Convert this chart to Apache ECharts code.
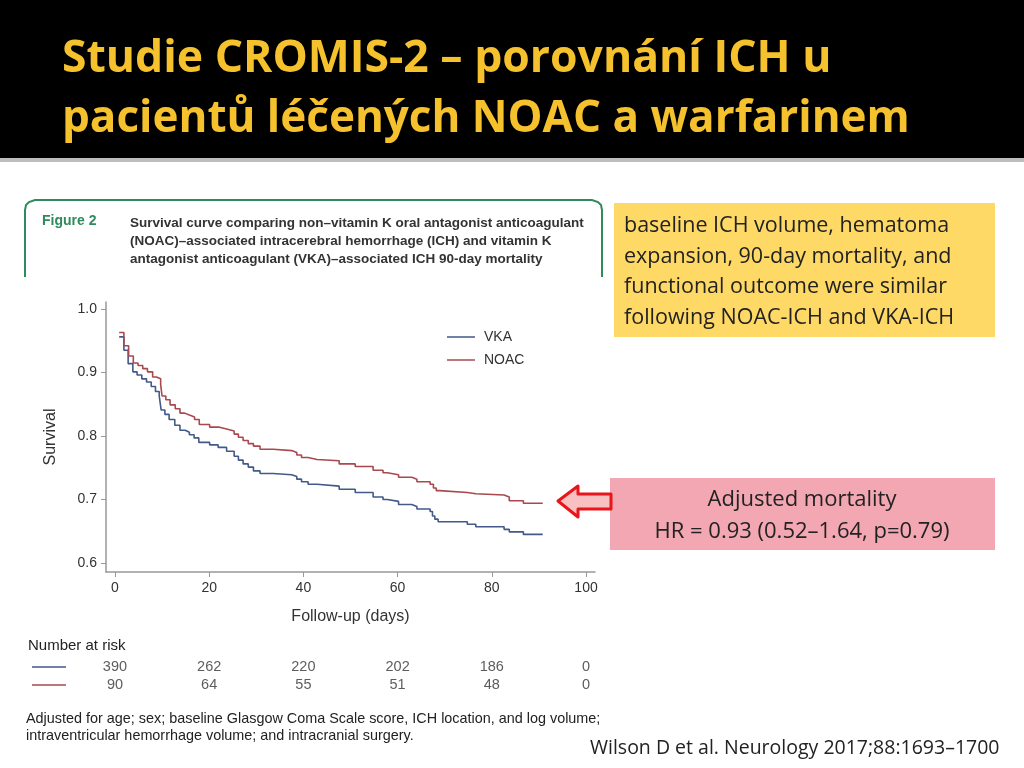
<!DOCTYPE html>
<html>
<head>
<meta charset="utf-8">
<script src="https://cdn.jsdelivr.net/npm/echarts@6/dist/echarts.min.js"></script>
<style>
  html, body { margin: 0; padding: 0; background: #fff; }
  #chart { width: 1024px; height: 768px; }
</style>
</head>
<body>
<div id="chart"></div>
<script>
// Kaplan-Meier steps: [day, survival]
const vkaCurve = [
  [0.9, 0.956], [1.9, 0.935], [2.8, 0.914], [3.8, 0.901], [4.7, 0.896], [5.7, 0.890],
  [6.7, 0.885], [7.7, 0.878], [8.6, 0.870], [9.4, 0.863], [9.8, 0.841], [10.6, 0.834],
  [11.5, 0.826], [12.7, 0.817], [13.8, 0.809], [14.9, 0.806], [15.8, 0.802], [16.8, 0.797],
  [17.8, 0.790], [20.1, 0.786], [21.9, 0.782], [23.7, 0.776], [25.3, 0.768], [26.2, 0.762],
  [27.2, 0.756], [28.3, 0.751], [29.4, 0.745], [30.8, 0.741], [33.6, 0.739], [37.5, 0.736],
  [38.6, 0.732], [39.6, 0.728], [41.0, 0.724], [42.9, 0.721], [47.6, 0.716], [51.0, 0.711],
  [54.8, 0.704], [56.9, 0.700], [57.8, 0.697], [60.2, 0.692], [63.0, 0.689], [64.1, 0.685],
  [66.9, 0.681], [67.4, 0.674], [67.9, 0.669], [68.6, 0.665], [74.8, 0.661], [76.6, 0.657],
  [82.6, 0.653], [83.7, 0.649], [86.7, 0.645], [90.8, 0.645]
];

const noacCurve = [
  [0.9, 0.963], [1.9, 0.942], [2.9, 0.926], [3.9, 0.915], [4.9, 0.911], [5.9, 0.906],
  [6.9, 0.901], [8.0, 0.893], [8.8, 0.890], [9.7, 0.881], [10.0, 0.863], [10.8, 0.857],
  [11.7, 0.849], [12.8, 0.843], [13.8, 0.836], [14.8, 0.833], [15.8, 0.830], [16.9, 0.826],
  [17.9, 0.818], [20.1, 0.814], [22.0, 0.811], [23.7, 0.808], [25.3, 0.803], [26.2, 0.798],
  [27.2, 0.793], [28.3, 0.788], [29.4, 0.784], [30.8, 0.779], [33.6, 0.777], [37.5, 0.774],
  [38.6, 0.770], [39.6, 0.766], [41.0, 0.763], [42.9, 0.761], [47.6, 0.756], [51.0, 0.752],
  [54.8, 0.746], [56.9, 0.742], [57.8, 0.739], [60.2, 0.735], [63.0, 0.732], [64.1, 0.728],
  [66.9, 0.724], [67.6, 0.718], [68.2, 0.714], [68.9, 0.711], [74.8, 0.709], [76.6, 0.707],
  [82.6, 0.704], [83.7, 0.698], [86.7, 0.694], [90.8, 0.694]
];

const xTicks = [0, 20, 40, 60, 80, 100];
const yTicks = [0.6, 0.7, 0.8, 0.9, 1.0];

// number at risk
const riskDays = [0, 20, 40, 60, 80, 100];
const vkaRisk = [390, 262, 220, 202, 186, 0];
const noacRisk = [90, 64, 55, 51, 48, 0];

const BLUE = '#43598a';
const RED = '#a9484f';
const FONT = '"Liberation Sans", Arial, sans-serif';
const SLIDE_FONT = '"Open Sans", Lato, sans-serif';

const riskRows = (name, values) => riskDays.map((d, i) => [d, name, values[i]]);

const chart = echarts.init(document.getElementById('chart'));

chart.setOption({
  animation: false,
  backgroundColor: '#fff',
  textStyle: { fontFamily: FONT },
  grid: [
    { left: 106, right: 429, top: 302, bottom: 196 },
    { left: 106, right: 429, top: 658, height: 36 }
  ],
  legend: {
    data: ['VKA', 'NOAC'],
    orient: 'vertical',
    left: 442,
    top: 325,
    icon: 'rect',
    itemWidth: 28,
    itemHeight: 1.5,
    itemGap: 9,
    textStyle: { fontFamily: FONT, fontSize: 14, color: '#333', padding: [0, 0, 0, 4] }
  },
  xAxis: [
    {
      type: 'value',
      min: -1.9,
      max: 101.9,
      name: 'Follow-up (days)',
      nameLocation: 'middle',
      nameGap: 37,
      nameTextStyle: { fontSize: 16, color: '#333' },
      axisLine: { onZero: false, lineStyle: { color: '#999', width: 1.5 } },
      axisTick: { show: true, customValues: xTicks, length: 5, lineStyle: { color: '#999' } },
      axisLabel: { customValues: xTicks, fontSize: 14, color: '#333', margin: 9 },
      splitLine: { show: false }
    },
    { gridIndex: 1, type: 'value', min: -1.9, max: 101.9, show: false }
  ],
  yAxis: [
    {
      type: 'value',
      min: 0.5858,
      max: 1.011,
      name: 'Survival',
      nameLocation: 'middle',
      nameGap: 47,
      nameRotate: 90,
      nameTextStyle: { fontSize: 16, color: '#333' },
      axisLine: { show: true, onZero: false, lineStyle: { color: '#999', width: 1.5 } },
      axisTick: { show: true, customValues: yTicks, length: 5, lineStyle: { color: '#999' } },
      axisLabel: {
        customValues: yTicks,
        fontSize: 14,
        color: '#333',
        margin: 9,
        formatter: v => v.toFixed(1)
      },
      splitLine: { show: false }
    },
    { gridIndex: 1, type: 'category', data: ['VKA', 'NOAC'], inverse: true, show: false }
  ],
  series: [
    {
      name: 'VKA',
      type: 'line',
      step: 'end',
      showSymbol: false,
      color: BLUE,
      lineStyle: { width: 1.6 },
      data: vkaCurve
    },
    {
      name: 'NOAC',
      type: 'line',
      step: 'end',
      showSymbol: false,
      color: RED,
      lineStyle: { width: 1.6 },
      data: noacCurve
    },
    {
      name: 'risk',
      type: 'scatter',
      xAxisIndex: 1,
      yAxisIndex: 1,
      symbolSize: 0.1,
      itemStyle: { color: 'transparent' },
      label: {
        show: true,
        position: 'inside',
        fontSize: 14.5,
        color: '#333',
        formatter: p => p.value[2]
      },
      data: riskRows('VKA', vkaRisk).concat(riskRows('NOAC', noacRisk))
    }
  ],
  graphic: [
    // slide header
    { type: 'rect', shape: { x: 0, y: 0, width: 1024, height: 158 }, style: { fill: '#000' } },
    { type: 'rect', shape: { x: 0, y: 158, width: 1024, height: 4 }, style: { fill: '#bdbdbd' } },
    {
      type: 'text', x: 62, y: 37,
      style: { text: 'Studie CROMIS-2 – porovnání ICH u', fill: '#f5c12c', font: 'bold 44.5px ' + SLIDE_FONT }
    },
    {
      type: 'text', x: 62, y: 97,
      style: { text: 'pacientů léčených NOAC a warfarinem', fill: '#f5c12c', font: 'bold 44px ' + SLIDE_FONT }
    },
    // figure caption box
    {
      type: 'polyline',
      shape: {
        points: [[25, 277], [25, 210], [26, 205], [29, 202], [35, 200], [592, 200],
                 [598, 202], [601, 205], [602, 210], [602, 277]]
      },
      style: { stroke: '#2f8a5c', lineWidth: 2, fill: null }
    },
    {
      type: 'text', x: 42, y: 214,
      style: { text: 'Figure 2', fill: '#2f8a5c', font: 'bold 14px ' + FONT }
    },
    {
      type: 'text', x: 130, y: 214,
      style: {
        text: 'Survival curve comparing non–vitamin K oral antagonist anticoagulant\n' +
              '(NOAC)–associated intracerebral hemorrhage (ICH) and vitamin K\n' +
              'antagonist anticoagulant (VKA)–associated ICH 90-day mortality',
        fill: '#333', font: 'bold 13.5px ' + FONT, lineHeight: 18
      }
    },
    // number at risk
    {
      type: 'text', x: 28, y: 638,
      style: { text: 'Number at risk', fill: '#222', font: '15px ' + FONT }
    },
    { type: 'line', shape: { x1: 32, y1: 667, x2: 66, y2: 667 }, style: { stroke: BLUE, lineWidth: 1.5 } },
    { type: 'line', shape: { x1: 32, y1: 685, x2: 66, y2: 685 }, style: { stroke: RED, lineWidth: 1.5 } },
    {
      type: 'text', x: 26, y: 711,
      style: {
        text: 'Adjusted for age; sex; baseline Glasgow Coma Scale score, ICH location, and log volume;\n' +
              'intraventricular hemorrhage volume; and intracranial surgery.',
        fill: '#222', font: '14.4px ' + FONT, lineHeight: 17
      }
    },
    // yellow note
    { type: 'rect', shape: { x: 614, y: 203, width: 381, height: 134 }, style: { fill: '#ffd966' } },
    {
      type: 'text', x: 624, y: 211,
      style: {
        text: 'baseline ICH volume, hematoma\nexpansion, 90-day mortality, and\nfunctional outcome were similar\nfollowing NOAC-ICH and VKA-ICH',
        fill: '#222', font: '21.5px ' + SLIDE_FONT, lineHeight: 30.5
      }
    },
    // pink note + arrow
    { type: 'rect', shape: { x: 610, y: 478, width: 385, height: 72 }, style: { fill: '#f2a7b3' } },
    {
      type: 'text', x: 802, y: 484,
      style: {
        text: 'Adjusted mortality\nHR = 0.93 (0.52–1.64, p=0.79)',
        fill: '#222', font: '22px ' + SLIDE_FONT, lineHeight: 32, align: 'center'
      }
    },
    {
      type: 'polygon',
      shape: { points: [[558, 501], [578, 486], [578, 494], [611, 494], [611, 509], [578, 509], [578, 517]] },
      style: { fill: '#f8c0c0', stroke: '#e8151b', lineWidth: 3, lineJoin: 'round' }
    },
    // citation
    {
      type: 'text', x: 590, y: 738,
      style: { text: 'Wilson D et al. Neurology 2017;88:1693–1700', fill: '#222', font: '19.5px ' + SLIDE_FONT }
    }
  ]
});
</script>
</body>
</html>
